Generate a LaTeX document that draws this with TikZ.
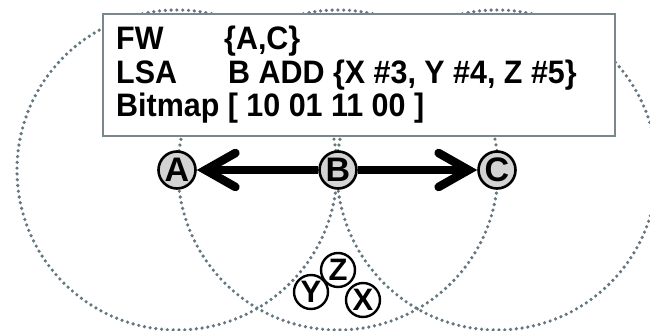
\documentclass[tikz,border=0pt]{standalone}
\usepackage{fontspec}
\setmainfont{Liberation Sans}
\usetikzlibrary{arrows.meta}
\definecolor{dotc}{HTML}{647780}
\definecolor{boxc}{HTML}{7A878D}
\definecolor{nodefill}{HTML}{D3D3D3}
\newcommand{\stretchtxt}[1]{\scalebox{1.05}[1.12]{#1}}
\tikzset{
  rangecircle/.style={draw=dotc, line width=3.6pt, line cap=round, dash pattern=on 0pt off 5.8pt},
  infobox/.style={draw=boxc, fill=white, line width=2.6pt},
  txt/.style={anchor=base west, inner sep=0pt, font=\fontsize{29}{29}\selectfont\bfseries},
  mainnode/.style={circle, draw=black, fill=nodefill, line width=2.6pt, minimum size=37pt, inner sep=0pt, font=\fontsize{34}{34}\selectfont\bfseries},
  subnode/.style={circle, draw=black, fill=white, line width=2.4pt, minimum size=34pt, inner sep=0pt, font=\fontsize{31}{31}\selectfont\bfseries},
  bigarrow/.style={line width=8.5pt, -{Straight Barb[length=30pt, width=34pt, line cap=round]}}
}
\begin{document}
\begin{tikzpicture}[x=1pt,y=-1pt]
\useasboundingbox (0,0) rectangle (650,331);
\begin{scope}
\clip (0,0) rectangle (650,331);
\coordinate (ca) at (177,170);
\coordinate (cb) at (338,170);
\coordinate (cc) at (497,170);
\draw[rangecircle] (ca) circle[radius=160];
\draw[rangecircle] (cb) circle[radius=160];
\draw[rangecircle] (cc) circle[radius=160];
\end{scope}
\draw[infobox] (103,14) rectangle (615,136);
\node[txt] (fw) at (116,50) {\stretchtxt{FW}};
\node[txt] (fwv) at (224,50) {\stretchtxt{\{A,C\}}};
\node[txt] (lsa) at (116,84) {\stretchtxt{LSA}};
\node[txt] (lsav) at (228,84) {\stretchtxt{B ADD \{X \#3, Y \#4, Z \#5\}}};
\node[txt] (bm) at (116,117) {\stretchtxt{Bitmap [ 10 01 11 00 ]}};
\node[mainnode] (A) at (ca) {A};
\node[mainnode] (B) at (cb) {B};
\node[mainnode] (C) at (cc) {C};
\draw[bigarrow] (B) -- (A);
\draw[bigarrow] (B) -- (C);
\node[subnode] (Z) at (338,270) {Z};
\node[subnode] (Y) at (311,292) {Y};
\node[subnode] (X) at (363,300) {X};
\end{tikzpicture}
\end{document}
